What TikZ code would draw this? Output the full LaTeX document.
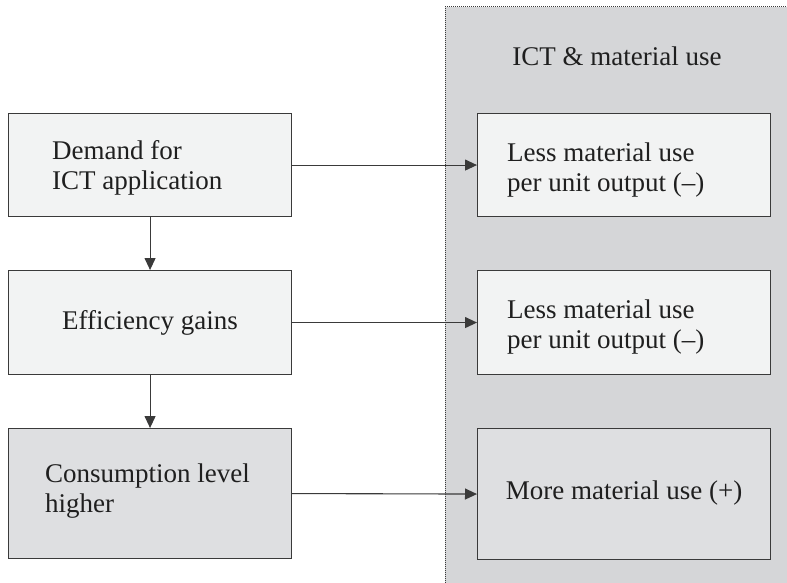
\documentclass[tikz,border=0pt]{standalone}
\usepackage{fontspec}
\setmainfont{Liberation Serif}
\usetikzlibrary{arrows.meta,positioning}
\definecolor{panelgray}{HTML}{D5D6D8}
\definecolor{boxlight}{HTML}{F2F3F3}
\definecolor{boxmid}{HTML}{DEDFE1}
\definecolor{linegray}{HTML}{3A3A3A}
\begin{document}
\begin{tikzpicture}[x=1pt,y=-1pt,
  every node/.style={font=\fontsize{27}{30}\selectfont, text=black!88, inner sep=0pt},
  flowbox/.style={draw=linegray, line width=1.1pt, rectangle, anchor=north west},
  label/.style={anchor=west, align=left},
  conn/.style={draw=linegray, line width=1.1pt, -{Triangle[length=12pt,width=11pt]}}
]
\useasboundingbox (0,0) rectangle (787,583);
% panel
\fill[panelgray] (445,7) rectangle (787,583);
\draw[linegray, line width=1pt, dash pattern=on 1pt off 1pt] (445,583) -- (445,7) -- (787,7);
\node (title) at (617,56) {ICT \& material use};
% left boxes
\node[flowbox, fill=boxlight, minimum width=283pt, minimum height=103pt] (demand) at (8,113) {};
\node[flowbox, fill=boxlight, minimum width=283pt, minimum height=104pt] (eff) at (8,270) {};
\node[flowbox, fill=boxmid, minimum width=283pt, minimum height=130pt] (cons) at (8,428) {};
% right boxes
\node[flowbox, fill=boxlight, minimum width=293pt, minimum height=103pt] (less1) at (477,113) {};
\node[flowbox, fill=boxlight, minimum width=293pt, minimum height=104pt] (less2) at (477,270) {};
\node[flowbox, fill=boxmid, minimum width=293pt, minimum height=131pt] (more) at (477,428) {};
% texts
\node[label] (demandt) at (52,168) {Demand for\\ICT application};
\node (efft) at (eff.center) {Efficiency gains};
\node[label] (const) at (45,491) {Consumption level\\higher};
\node[label] (less1t) at (507,170) {Less material use\\per unit output (--)};
\node[label] (less2t) at (507,327) {Less material use\\per unit output (--)};
\node (moret) at ([yshift=1pt]more.center) {More material use (+)};
% connectors
\draw[conn] (demand.south) -- (eff.north);
\draw[conn] (eff.south) -- (cons.north);
\draw[conn] (demand.east) -- (less1.west);
\draw[conn] (eff.east) -- (less2.west);
\draw[conn] (cons.east) -- (more.west);
\end{tikzpicture}
\end{document}
